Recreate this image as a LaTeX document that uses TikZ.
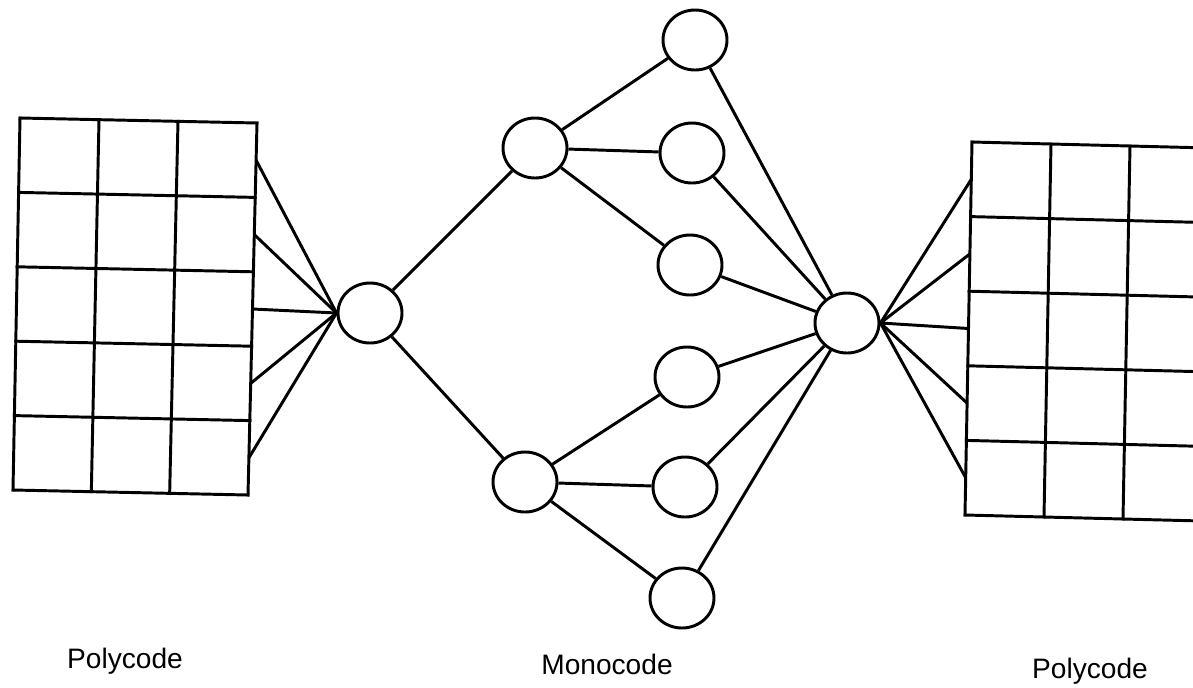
\documentclass[tikz,border=0pt]{standalone}
\usepackage{fontspec}
\setmainfont{Liberation Sans}
\usetikzlibrary{calc,shapes.geometric}

\begin{document}
\begin{tikzpicture}[x=0.025cm,y=-0.025cm,line width=2.1pt]
\tikzstyle{every node}+=[inner sep=0pt]
\tikzstyle{unit}=[draw,ellipse,minimum width=1.6cm,minimum height=1.5cm]
\tikzstyle{caption}=[font=\fontsize{20}{24}\selectfont]
\useasboundingbox (0,0) rectangle (1193,687);
\clip (0,0) rectangle (1193,687);

% left polycode grid
\coordinate (lnw) at (20,118);
\coordinate (lne) at (257,123);
\coordinate (lsw) at (13,490);
\coordinate (lse) at (248,495);
\foreach \i in {0,...,3}
  \draw [line cap=rect] ($(lnw)!\i/3!(lne)$) -- ($(lsw)!\i/3!(lse)$);
\foreach \j in {0,...,5}
  \draw [line cap=rect] ($(lnw)!\j/5!(lsw)$) -- ($(lne)!\j/5!(lse)$);

% right polycode grid
\coordinate (rnw) at (972,142);
\coordinate (rne) at (1209,148);
\coordinate (rsw) at (965,515);
\coordinate (rse) at (1202,521);
\foreach \i in {0,...,3}
  \draw [line cap=rect] ($(rnw)!\i/3!(rne)$) -- ($(rsw)!\i/3!(rse)$);
\foreach \j in {0,...,5}
  \draw [line cap=rect] ($(rnw)!\j/5!(rsw)$) -- ($(rne)!\j/5!(rse)$);

% monocode tree
\node [unit] (hubL) at (370,313) {};
\node [unit] (splitU) at (535,148) {};
\node [unit] (splitD) at (525,482) {};
\node [unit] (leaf1) at (695,40) {};
\node [unit] (leaf2) at (692,153) {};
\node [unit] (leaf3) at (690,265) {};
\node [unit] (leaf4) at (687,377) {};
\node [unit] (leaf5) at (685,487) {};
\node [unit] (leaf6) at (682,598) {};
\node [unit] (hubR) at (847,323) {};

\foreach \f in {0.1,0.3,0.5,0.7,0.9}
  \draw ($(lne)!\f!(lse)$) -- (hubL.west);
\foreach \f in {0.1,0.3,0.5,0.7,0.9}
  \draw (hubR.east) -- ($(rnw)!\f!(rsw)$);

\draw (hubL) -- (splitU);
\draw (hubL) -- (splitD);
\foreach \k in {1,2,3}
  \draw (splitU) -- (leaf\k);
\foreach \k in {4,5,6}
  \draw (splitD) -- (leaf\k);
\foreach \k in {1,...,6}
  \draw (leaf\k) -- (hubR);

\node [caption] (capL) at (125,661) {Polycode};
\node [caption] (capM) at (607,664) {Monocode};
\node [caption] (capR) at (1090,671) {Polycode};
\end{tikzpicture}
\end{document}
